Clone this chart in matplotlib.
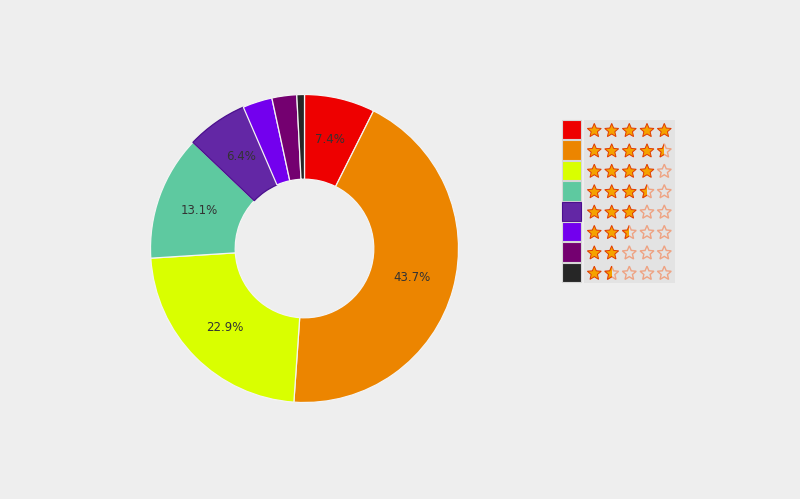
import numpy as np
import matplotlib
matplotlib.use("Agg")
import matplotlib.pyplot as plt
from matplotlib.patches import Rectangle, Polygon

# share of votes per rating
ratings = [5, 4.5, 4, 3.5, 3, 2.5, 2, 1.5]
shares = [7.4, 43.7, 22.9, 13.1, 6.4, 3.1, 2.6, 0.8]
colors = ['#ee0000', '#ec8500', '#d9ff00', '#5ec9a0',
          '#6327a5', '#7300ee', '#740070', '#262626']
edge_dark = ['#ee0000', '#ec8500', '#d9ff00', '#5ec9a0',
             '#4b0f8e', '#7300ee', '#740070', '#262626']

bg = '#eeeeee'
fig = plt.figure(figsize=(8, 4.99), dpi=100, facecolor=bg)

# donut
ax = fig.add_axes([150.5 / 800, 96.5 / 499, 308 / 800, 308 / 499])
ax.set_facecolor(bg)
wedges, texts, autotexts = ax.pie(
    shares, colors=colors, startangle=90, counterclock=False, radius=1,
    wedgeprops=dict(width=0.55, edgecolor='#f4f4f4', linewidth=0.9),
    autopct=lambda p: f'{p:.1f}%' if p > 5 else '',
    pctdistance=0.725, textprops=dict(fontsize=8.5, color='#333333'))
wedges[4].set_edgecolor('#4b0f8e')
ax.set_xlim(-1, 1)
ax.set_ylim(-1, 1)
ax.set_aspect('equal')
ax.axis('off')


def star_points(cx, cy, R, r):
    pts = []
    for k in range(10):
        a = np.pi * k / 5
        rad = R if k % 2 == 0 else r
        pts.append((cx + rad * np.sin(a), cy - rad * np.cos(a)))
    return pts


# legend, in pixel coords
lg = fig.add_axes([0, 0, 1, 1])
lg.set_xlim(0, 800)
lg.set_ylim(499, 0)
lg.axis('off')

top, pitch = 120, 20.4
lg.add_patch(Rectangle((583.5, top - 0.5), 91, pitch * 8 + 0.5,
                       facecolor='#e3e3e3', edgecolor='none'))
star_x = [594.3, 611.7, 629.3, 647.0, 664.3]
for i, (rt, c) in enumerate(zip(ratings, colors)):
    y0 = top + i * pitch
    lg.add_patch(Rectangle((561.5, y0), 19, pitch - 1, facecolor=c,
                           edgecolor=edge_dark[i] if i == 4 else '#d6d6d6',
                           linewidth=0.8))
    cy = y0 + pitch / 2 + 0.5
    for j, sx in enumerate(star_x):
        pts = star_points(sx, cy, 7.3, 3.3)
        fill = min(max(rt - j, 0), 1)
        if fill >= 1:
            lg.add_patch(Polygon(pts, closed=True, facecolor='#f5a200',
                                 edgecolor='#e03a00', linewidth=0.7))
        else:
            lg.add_patch(Polygon(pts, closed=True, facecolor='none',
                                 edgecolor='#eea383', linewidth=1.0))
            if fill > 0:
                p = Polygon(pts, closed=True, facecolor='#f5a200',
                            edgecolor='#e03a00', linewidth=0.7)
                lg.add_patch(p)
                clip = Rectangle((sx - 8, cy - 8), 8, 16, transform=lg.transData)
                p.set_clip_path(clip)

fig.savefig('out.png', dpi=100, facecolor=bg)
